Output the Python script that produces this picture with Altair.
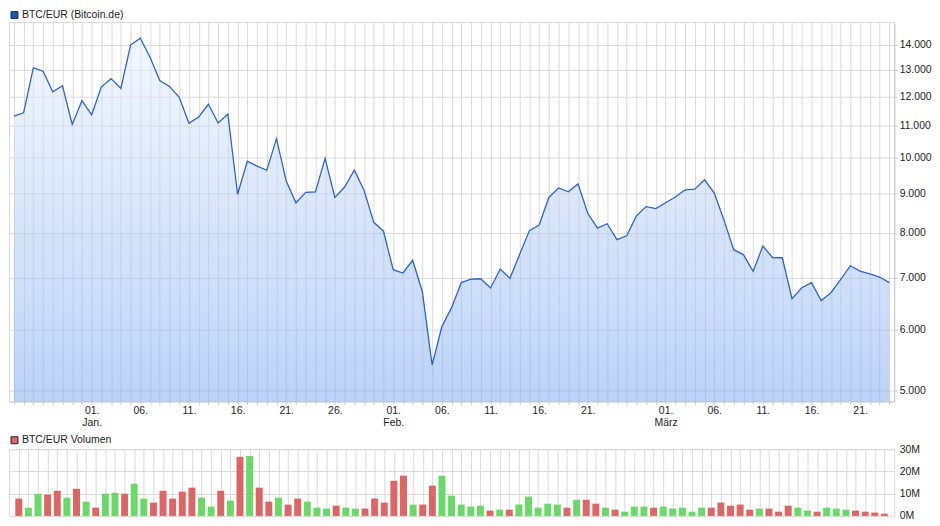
import altair as alt
import pandas as pd

# ---------------- data ----------------
DATES = pd.date_range("2017-12-24", "2018-03-24", freq="D").strftime("%Y-%m-%d").tolist()

PRICE = [
    11320, 11430, 13070, 12940, 12170, 12390, 11040, 11850,             # Dec 24-31
    11365, 12350, 12655, 12290, 13985, 14275, 13485, 12585, 12365, 11970,  # Jan 1-10
    11080, 11290, 11725, 11090, 11390, 8970, 9895, 9755, 9635, 10585,      # Jan 11-20
    9330, 8745, 9020, 9035, 9980, 8885, 9165, 9635, 9075, 8250, 8035,      # Jan 21-31
    7165, 7095, 7370, 6705, 5395, 6050, 6400, 6895, 6965, 6975,            # Feb 1-10
    6785, 7180, 6985, 7500, 8050, 8185, 8885, 9140, 9035, 9250,            # Feb 11-20
    8475, 8110, 8215, 7835, 7925, 8410, 8645, 8595,                        # Feb 21-28
    8745, 8895, 9085, 9105, 9365, 9010, 8310, 7605, 7495, 7130,            # Mar 1-10
    7690, 7430, 7425, 6575, 6790, 6895, 6535, 6690, 6960, 7250,            # Mar 11-20
    7135, 7075, 7010, 6895,                                                # Mar 21-24
]

VOLUME_M = [
    7.8, 3.7, 10.0, 9.6, 11.3, 8.2, 12.2, 6.4,
    3.7, 10.0, 10.4, 10.0, 14.5, 7.8, 6.0, 11.3, 7.8, 10.9,
    12.7, 8.2, 4.2, 11.3, 6.9, 26.6, 27.0, 12.7, 6.4, 8.2,
    5.1, 7.8, 6.4, 3.7, 3.3, 4.6, 3.7, 3.3, 3.3, 7.8, 6.0,
    15.8, 18.1, 5.1, 5.1, 13.6, 18.1, 9.1, 5.1, 4.2, 4.6,
    2.4, 2.8, 2.8, 5.1, 8.7, 3.7, 5.5, 5.1, 3.7, 7.3,
    7.3, 5.5, 3.7, 2.8, 1.9, 4.2, 4.2, 3.7,
    4.2, 3.3, 3.7, 1.9, 3.7, 3.7, 6.0, 4.6, 5.1, 2.8,
    3.3, 3.3, 1.9, 4.6, 3.7, 2.4, 1.9, 3.7, 3.3, 2.8,
    2.4, 1.9, 1.5, 1.0,
]

DIRECTION = [
    "down", "up", "up", "down", "down", "up", "down", "up",
    "down", "up", "up", "down", "up", "up", "down", "down", "down", "down",
    "down", "up", "up", "down", "up", "down", "up", "down", "down", "up",
    "down", "down", "up", "up", "up", "down", "up", "up", "down", "down", "down",
    "down", "down", "up", "down", "down", "up", "up", "up", "up", "up",
    "down", "up", "down", "up", "up", "up", "up", "up", "down", "up",
    "down", "down", "up", "down", "up", "up", "up", "down",
    "up", "up", "up", "up", "up", "down", "down", "down", "down", "down",
    "up", "down", "down", "down", "up", "up", "down", "up", "up", "up",
    "down", "down", "down", "down",
]

LABEL_DAYS = [
    "2018-01-01", "2018-01-06", "2018-01-11", "2018-01-16", "2018-01-21", "2018-01-26",
    "2018-02-01", "2018-02-06", "2018-02-11", "2018-02-16", "2018-02-21",
    "2018-03-01", "2018-03-06", "2018-03-11", "2018-03-16", "2018-03-21",
]
MONTH_NAMES = {"2018-01-01": "Jan.", "2018-02-01": "Feb.", "2018-03-01": "März"}

PRICE_TICKS = [5000, 6000, 7000, 8000, 9000, 10000, 11000, 12000, 13000, 14000]
PRICE_DOMAIN = [4841, 14977]
VOLUME_TICKS = [0, 10, 20, 30]
VOLUME_DOMAIN = [0, 30]

PRICE_TITLE = "BTC/EUR (Bitcoin.de)"
VOLUME_TITLE = "BTC/EUR Volumen"

# ---------------- styling ----------------
FONT = "Liberation Sans"
TEXT_COLOR = "#222222"
GRID = "#d9d9d9"
AXIS_LINE = "#c8c8c8"
LINE_BLUE = "#2d64c8"
RED = "#dc6666"
GREEN = "#6ad96a"

df = pd.DataFrame({"date": DATES, "price": PRICE, "volume": VOLUME_M, "dir": DIRECTION})

day_ms = [int(pd.Timestamp(d, tz="UTC").value // 10**6) for d in DATES]
N_TICKS = len(day_ms) + 20

x_scale = alt.Scale(
    type="utc",
    domain=[
        alt.DateTime(year=2017, month=12, date=23, hours=12, utc=True),
        alt.DateTime(year=2018, month=3, date=24, hours=12, utc=True),
    ],
    nice=False,
)


def build_label_expr():
    expr = "''"
    for d in reversed(LABEL_DAYS):
        day = d[-2:] + "."
        if d in MONTH_NAMES:
            val = f"['{day}', '{MONTH_NAMES[d]}']"
        else:
            val = f"'{day}'"
        expr = f"(utcFormat(datum.value, '%Y-%m-%d') == '{d}' ? {val} : {expr})"
    return expr


W = 889
H_PRICE = 381
H_VOL = 67

x_axis_top = alt.Axis(
    values=day_ms,
    tickCount=N_TICKS,
    labelExpr=build_label_expr(),
    grid=True,
    gridColor=GRID,
    tickSize=3,
    tickColor=AXIS_LINE,
    domainColor=AXIS_LINE,
    labelOverlap=False,
    labelFlush=False,
    labelPadding=1,
    labelLineHeight=12.5,
    title=None,
)

y_price = alt.Y(
    "price:Q",
    scale=alt.Scale(type="log", domain=PRICE_DOMAIN, nice=False, zero=False),
    axis=alt.Axis(
        orient="right",
        values=PRICE_TICKS,
        tickCount=20,
        labelExpr="replace(format(datum.value, ','), ',', '.')",
        grid=True,
        gridColor=GRID,
        tickSize=3,
        tickColor=AXIS_LINE,
        domainColor=AXIS_LINE,
        labelPadding=2,
        title=None,
    ),
)

base = alt.Chart(df)

area = base.mark_area(
    color=alt.Gradient(
        gradient="linear",
        stops=[
            alt.GradientStop(color="#e9f0fd", offset=0),
            alt.GradientStop(color="#85aff0", offset=1),
        ],
        x1=1, x2=1, y1=0, y2=1,
    ),
    opacity=0.55,
).encode(
    x=alt.X("date:T", scale=x_scale, axis=x_axis_top),
    y=y_price,
    y2=alt.datum(PRICE_DOMAIN[0]),
)

line = base.mark_line(color=LINE_BLUE, strokeWidth=1.3).encode(
    x=alt.X("date:T", scale=x_scale),
    y=alt.Y("price:Q"),
)

price_title_df = pd.DataFrame({"label": [PRICE_TITLE]})
price_square = alt.Chart(price_title_df).mark_point(
    shape="square", size=49, filled=True, fill="#1d55b0", stroke="#17305e",
    strokeWidth=1, opacity=1,
).encode(x=alt.value(5.5), y=alt.value(-7))
price_text = alt.Chart(price_title_df).mark_text(
    align="left", baseline="middle", font=FONT, fontSize=10.5, color=TEXT_COLOR,
).encode(x=alt.value(13), y=alt.value(-7), text="label:N")

top = alt.layer(area, line, price_square, price_text).properties(width=W, height=H_PRICE)

bars = base.mark_bar(size=7).encode(
    x=alt.X(
        "date:T",
        scale=x_scale,
        axis=alt.Axis(values=day_ms, tickCount=N_TICKS, labels=False, ticks=False,
                      domain=False, grid=True, gridColor=GRID, title=None),
    ),
    y=alt.Y(
        "volume:Q",
        scale=alt.Scale(domain=VOLUME_DOMAIN, nice=False),
        axis=alt.Axis(orient="right", values=VOLUME_TICKS, labelExpr="datum.value + 'M'",
                      domain=False, ticks=False, labelPadding=5, grid=True,
                      gridColor=GRID, title=None),
    ),
    color=alt.Color("dir:N", scale=alt.Scale(domain=["down", "up"], range=[RED, GREEN]),
                    legend=None),
)

vol_title_df = pd.DataFrame({"label": [VOLUME_TITLE]})
vol_square = alt.Chart(vol_title_df).mark_point(
    shape="square", size=49, filled=True, fill=RED, stroke="#222222",
    strokeWidth=1, opacity=1,
).encode(x=alt.value(5.5), y=alt.value(-9))
vol_text = alt.Chart(vol_title_df).mark_text(
    align="left", baseline="middle", font=FONT, fontSize=10.5, color=TEXT_COLOR,
).encode(x=alt.value(13), y=alt.value(-9), text="label:N")

bottom = alt.layer(bars, vol_square, vol_text).properties(width=W, height=H_VOL)

chart = (
    alt.vconcat(top, bottom, spacing=48, bounds="flush")
    .properties(padding={"left": 0, "top": 0, "right": 0, "bottom": 0})
    .configure_view(stroke=GRID)
    .configure_axis(
        labelFont=FONT,
        labelFontSize=10.5,
        labelColor=TEXT_COLOR,
    )
)

chart.save("out.html", embed_options={"renderer": "svg", "actions": False})
